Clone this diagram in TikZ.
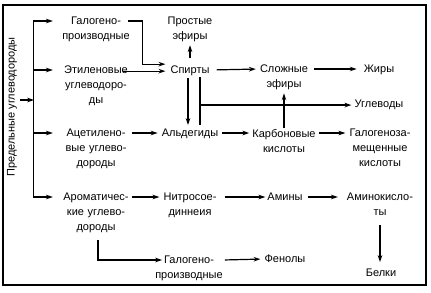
\documentclass[tikz,border=0pt]{standalone}
\usepackage{fontspec}
\setmainfont{Liberation Sans}
\usetikzlibrary{arrows.meta, calc}

\begin{document}
\begin{tikzpicture}[
    x=1pt, y=-1pt,
    lbl/.style={align=center, inner sep=0pt, anchor=north},
    col/.style={lbl, text width=74pt},
    arr/.style={-{Stealth[length=2.4mm, width=1.6mm]}, line width=1.2pt, shorten <=3pt, shorten >=4pt},
    ln/.style={line width=1.2pt},
    every node/.style={font=\fontsize{11}{15}\selectfont}
]
\useasboundingbox (0,0) rectangle (431,292);
\draw[line width=1.4pt] (3,5) rectangle (426,285);

% left column
\node[rotate=90, inner sep=0pt] (alkanes) at (12,107) {Предельные углеводороды};
\node[col] (halo1) at (96,17) {Галогено-\\производные};
\node[col] (ethyl) at (96,66) {Этиленовые\\углеводоро-\\ды};
\node[col] (acet) at (96,129) {Ацетилено-\\вые углево-\\дороды};
\node[col] (arom) at (96,193) {Ароматичес-\\кие углево-\\дороды};

% middle and right
\node[lbl] (ethers) at (190,17) {Простые\\эфиры};
\node[lbl] (alc) at (190,66) {Спирты};
\node[lbl] (esters) at (284,65) {Сложные\\эфиры};
\node[lbl] (fats) at (379,65) {Жиры};
\node[lbl] (carbs) at (379,100) {Углеводы};
\node[lbl] (ald) at (190,129) {Альдегиды};
\node[lbl] (acids) at (284,129) {Карбоновые\\кислоты};
\node[lbl] (haloacids) at (380,129) {Галогеноза-\\мещенные\\кислоты};
\node[lbl] (nitro) at (190,193) {Нитросое-\\диннеия};
\node[lbl] (amines) at (285,193) {Амины};
\node[lbl] (aminoacids) at (380,193) {Аминокисло-\\ты};
\node[lbl] (proteins) at (381,269) {Белки};
\node[lbl] (halo2) at (189,256) {Галогено-\\производные};
\node[lbl] (phenols) at (285,255) {Фенолы};

% bus
\coordinate (bus) at (34,100);
\draw[arr, shorten <=0pt, shorten >=0pt, {Stealth[length=2.4mm, width=1.6mm]}-{Stealth[length=2.4mm, width=1.6mm]}] ([xshift=-6pt,yshift=-4pt]halo1.north west) -| ([xshift=-25pt,yshift=-4pt]arom.north west) -- ([xshift=-6pt,yshift=-4pt]arom.north west);
\draw[arr, shorten <=0pt, shorten >=0pt] ([xshift=-25pt,yshift=-4pt]ethyl.north west) -- ([xshift=-6pt,yshift=-4pt]ethyl.north west);
\draw[arr, shorten <=0pt, shorten >=0pt] ([xshift=-25pt,yshift=-4pt]acet.north west) -- ([xshift=-6pt,yshift=-4pt]acet.north west);
\draw[arr, shorten >=0pt] (alkanes.south |- bus) -- (bus);

% into Spirty
\draw[arr, shorten <=0pt, shorten >=5pt] ([xshift=-5pt,yshift=-4pt]halo1.north east) -- ++(14,0) |- ([yshift=7pt]alc.west);
\draw[arr, shorten <=-10pt, shorten >=5pt] (alc.west -| ethyl.east) -- (alc.west);
\draw[arr, shorten <=8pt, shorten >=3pt] (alc.north) -- (ethers.south);
\draw[arr, shorten <=2pt, shorten >=4pt] ([xshift=-2pt]alc.south) -- ([xshift=-2pt]ald.north);

% bracket to Uglevody
\coordinate (brtop) at ([xshift=10pt,yshift=-1pt]alc.south);
\coordinate (brbot) at ([xshift=10pt,yshift=4pt]ald.north);
\draw[ln] (brtop) -- (brbot);
\draw[arr, shorten <=0pt, shorten >=3pt] (brtop |- carbs.west) -- (carbs.west);
\draw[arr, shorten <=1pt, shorten >=3pt] (acids.north) -- (esters.south);

% rows
\draw[arr, shorten <=7pt] ([yshift=-4pt]alc.north east) -- ([yshift=-4pt]esters.north west);
\draw[arr, shorten <=6pt, shorten >=7pt] ([yshift=-4pt]esters.north east) -- ([yshift=-4pt]fats.north west);
\draw[arr, shorten <=-1pt] ([yshift=-4pt]acet.north east) -- ([yshift=-4pt]ald.north west);
\draw[arr, shorten <=4pt, shorten >=3pt] ([yshift=-4pt]ald.north east) -- ([yshift=-4pt]acids.north west);
\draw[arr] ([yshift=-4pt]acids.north east) -- ([yshift=-4pt]haloacids.north west);
\draw[arr, shorten <=-1pt] ([yshift=-4pt]arom.north east) -- ([yshift=-4pt]nitro.north west);
\draw[arr, shorten <=8pt, shorten >=2pt] ([yshift=-4pt]nitro.north east) -- ([yshift=-4pt]amines.north west);
\draw[arr, shorten <=5pt, shorten >=9pt] ([yshift=-4pt]amines.north east) -- ([yshift=-4pt]aminoacids.north west);
\draw[arr, shorten <=9pt, shorten >=7pt] (aminoacids.south) -- (aminoacids.south |- proteins.north);

% bottom branch
\draw[arr, shorten <=7pt, shorten >=0pt] ([xshift=2pt]arom.south) |- ([xshift=7pt,yshift=-4pt]halo2.north west);
\draw[arr, shorten <=2pt] ([yshift=-4pt]halo2.north east) -- ([yshift=-4pt]phenols.north west);

\end{tikzpicture}
\end{document}
